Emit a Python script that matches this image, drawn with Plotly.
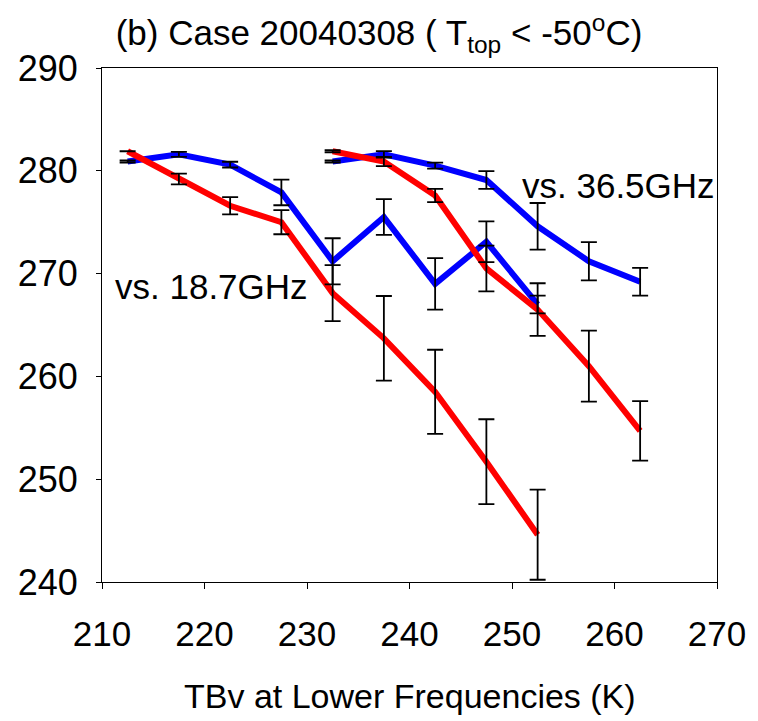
import plotly.graph_objects as go

# ---- data ----
x_low = [212.5, 217.5, 222.5, 227.5, 232.5, 237.5, 242.5, 247.5, 252.5]
blue_187 = [280.9, 281.6, 280.6, 277.9, 271.2, 275.5, 269.0, 273.1, 267.0]
blue_187_err = [0.1, 0.25, 0.28, 1.25, 2.24, 1.74, 2.51, 1.98, 0.86]
red_187 = [281.9, 279.2, 276.6, 275.0, 268.1, 263.7, 258.5, 251.7, 244.6]
red_187_err = [None, 0.53, 0.84, 1.17, 2.72, 4.12, 4.09, 4.13, 4.38]

x_high = [232.5, 237.5, 242.5, 247.5, 252.5, 257.5, 262.5]
blue_365 = [280.9, 281.6, 280.5, 279.1, 274.6, 271.2, 269.2]
blue_365_err = [0.1, 0.32, 0.29, 0.86, 2.27, 1.86, 1.35]
red_365 = [281.9, 280.9, 277.6, 270.5, 266.5, 261.0, 254.7]
red_365_err = [0.1, 0.45, 0.65, 2.22, 2.56, 3.45, 2.89]

x_ticks = [210, 220, 230, 240, 250, 260, 270]
y_ticks = [240, 250, 260, 270, 280, 290]

title_text = "(b) Case 20040308 ( T<sub>top</sub> &lt; -50<sup>o</sup>C)"
x_title = "TBv at Lower Frequencies (K)"
label_187 = "vs. 18.7GHz"
label_365 = "vs. 36.5GHz"

BLUE = "#0000FF"
RED = "#FF0000"

fig = go.Figure()

lines = [
    (x_low, blue_187, BLUE),
    (x_high, blue_365, BLUE),
    (x_low, red_187, RED),
    (x_high, red_365, RED),
]
for xs, ys, col in lines:
    fig.add_trace(go.Scatter(x=xs, y=ys, mode="lines",
                             line=dict(color=col, width=6),
                             hoverinfo="skip"))

errs = [
    (x_low, blue_187, blue_187_err),
    (x_high, blue_365, blue_365_err),
    (x_low, red_187, red_187_err),
    (x_high, red_365, red_365_err),
]
for xs, ys, es in errs:
    fig.add_trace(go.Scatter(x=xs, y=ys, mode="markers",
                             marker=dict(size=1, opacity=0),
                             error_y=dict(type="data", array=es, visible=True,
                                          color="black", thickness=1.8, width=8),
                             hoverinfo="skip"))

FONT = "Liberation Sans, Arial, sans-serif"

fig.update_layout(
    width=758, height=721,
    margin=dict(l=102, r=36, t=68, b=139),
    plot_bgcolor="white", paper_bgcolor="white",
    showlegend=False,
    font=dict(family=FONT, color="black"),
    title=dict(text=title_text, x=0.5, xanchor="center",
               y=1 - 33 / 721, yanchor="middle", yref="container",
               font=dict(size=35, family=FONT, color="black")),
    xaxis=dict(range=[210, 270], tickvals=x_ticks, ticktext=[str(v) for v in x_ticks],
               ticks="outside", ticklen=6, tickwidth=1, tickcolor="black",
               showline=True, linecolor="black", linewidth=1, mirror=True,
               showgrid=False, zeroline=False,
               tickfont=dict(size=35, family=FONT, color="black"),
               ticklabelstandoff=15),
    yaxis=dict(range=[240, 290], tickvals=y_ticks, ticktext=[str(v) for v in y_ticks],
               ticks="outside", ticklen=5, tickwidth=1, tickcolor="black",
               showline=True, linecolor="black", linewidth=1, mirror=True,
               showgrid=False, zeroline=False,
               tickfont=dict(size=36, family=FONT, color="black"),
               ticklabelstandoff=11),
    annotations=[
        dict(text=x_title, xref="paper", yref="paper", x=0.5, y=-0.222,
             xanchor="center", yanchor="middle", showarrow=False,
             font=dict(size=34, family=FONT, color="black")),
        dict(text=label_187, xref="x", yref="y", x=220.65, y=268.7,
             xanchor="center", yanchor="middle", showarrow=False,
             font=dict(size=35, family=FONT, color="black")),
        dict(text=label_365, xref="x", yref="y", x=260.4, y=278.6,
             xanchor="center", yanchor="middle", showarrow=False,
             font=dict(size=35, family=FONT, color="black")),
    ],
)

fig.write_html("out.html")
